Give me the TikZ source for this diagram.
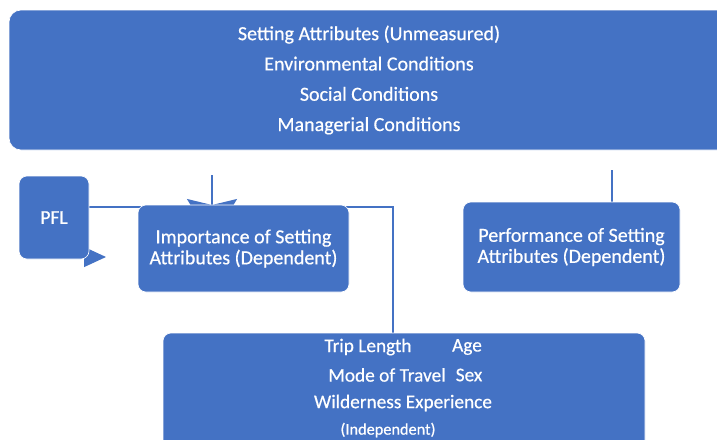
\documentclass[tikz,border=0pt]{standalone}
\usepackage{fontspec}
\setmainfont[FakeBold=0.5]{Carlito}
\usetikzlibrary{arrows.meta}
\definecolor{boxblue}{HTML}{4472C4}
\pgfdeclarelayer{background}
\pgfsetlayers{background,main}
\tikzset{
  blockbox/.style={fill=boxblue, draw=white, line width=0.6pt, rounded corners=8pt,
    text=white, align=center, inner sep=0pt},
  link/.style={draw=boxblue, line width=1.2pt},
  lbl/.style={text=white, font=\fontsize{19.3}{21}\selectfont, inner sep=0pt},
}
\begin{document}
\begin{tikzpicture}[x=1pt, y=-1pt]
\useasboundingbox (0,0) rectangle (717,439);
\clip (0,0) rectangle (717,439);

% blocks
\node[blockbox, rounded corners=12pt, minimum width=720pt, minimum height=140pt,
  font=\fontsize{20}{30.3}\selectfont] (setting) at (369,80)
  {Setting Attributes (Unmeasured)\\Environmental Conditions\\Social Conditions\\Managerial Conditions};
\node[blockbox, minimum width=70pt, minimum height=83pt,
  font=\fontsize{19.5}{21}\selectfont] (pfl) at (54,217.5) {PFL};
\node[blockbox, minimum width=211pt, minimum height=87pt,
  font=\fontsize{20}{21}\selectfont] (importance) at (243.5,248.5)
  {Importance of Setting\\Attributes (Dependent)};
\node[blockbox, minimum width=217pt, minimum height=90pt,
  font=\fontsize{20}{21}\selectfont] (performance) at (571.5,247)
  {Performance of Setting\\Attributes (Dependent)};
\node[blockbox, minimum width=482pt, minimum height=122pt] (indep) at (404,394) {};

% variables listed in the bottom block
\node[lbl] (trip) at (368,347) {Trip Length};
\node[lbl] (age) at (467,347) {Age};
\node[lbl] (mode) at (387,375) {Mode of Travel};
\node[lbl] (sex) at (469,375) {Sex};
\node[lbl] (wild) at (403,403) {Wilderness Experience};
\node[lbl, font=\fontsize{16.3}{18}\selectfont] (indlbl) at (388,430) {(Independent)};

% connectors, drawn behind the blocks
\coordinate (s1) at (212,175);
\coordinate (s1end) at (212,241);
\coordinate (s2) at (612,170);
\coordinate (pflout) at (89,207);
\coordinate (bend) at (393,207);
\coordinate (pfltip) at (106,257);
\coordinate (pfltail) at (60,257);
\begin{pgfonlayer}{background}
  \draw[link, -{Stealth[length=42pt, width=50pt, inset=6pt]}] (s1) -- (s1end);
  \draw[link] (s2) -- (s2 |- performance.north);
  \draw[link] (pflout) -- (bend) -- (bend |- indep.north);
  \draw[link, -{Triangle[length=22pt, width=20pt]}] (pfltail) -- (pfltip);
\end{pgfonlayer}
\end{tikzpicture}
\end{document}
